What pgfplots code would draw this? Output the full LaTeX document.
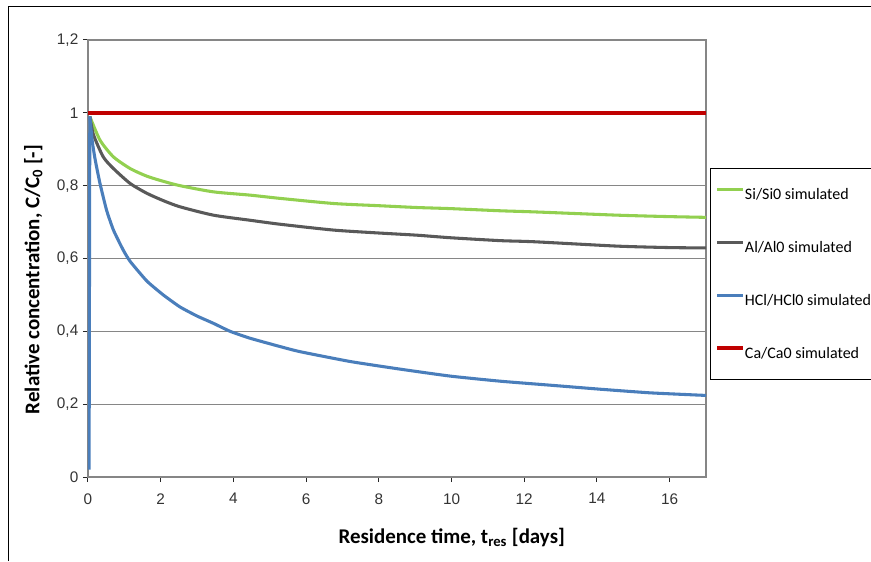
\documentclass[border=0pt]{standalone}
\usepackage{fontspec}
\setmainfont{Liberation Sans}
\newfontfamily\calibri{Carlito}
\usepackage{pgfplots}
\pgfplotsset{compat=1.18}

\definecolor{siGreen}{RGB}{146,208,80}
\definecolor{alGrey}{RGB}{89,89,89}
\definecolor{hclBlue}{RGB}{74,126,187}
\definecolor{caRed}{RGB}{192,0,0}
\definecolor{gridGrey}{RGB}{134,134,134}

\begin{document}
\begin{tikzpicture}
\path[use as bounding box] (0,0) rectangle (653.25pt,420.75pt);
% outer chart frame (cut at right and bottom)
\draw[black, line width=0.75pt] (6pt,0pt) -- (6pt,415.5pt) -- (660pt,415.5pt);

\begin{axis}[
  at={(66pt,63pt)}, anchor=south west,
  scale only axis, width=463.5pt, height=327.75pt,
  xmin=0, xmax=17, ymin=0, ymax=1.2,
  xtick={0,2,4,6,8,10,12,14,16},
  ytick={0,0.2,0.4,0.6,0.8,1,1.2},
  /pgf/number format/use comma,
  /pgf/number format/fixed,
  /pgf/number format/precision=1,
  /pgf/number format/assume math mode=true,
  ymajorgrids,
  major grid style={gridGrey, line width=0.75pt},
  axis line style={gridGrey, line width=0.9pt},
  tick align=outside, tick pos=left,
  major tick length=3.75pt,
  tick style={black!85, line width=0.75pt},
  tick label style={font=\fontsize{11.5pt}{13pt}\selectfont, text=black!80},
  xticklabel style={yshift=-5pt},
  xlabel={Residence time, t\textsubscript{res} [days]},
  ylabel={Relative concentration, C/C\textsubscript{0} [-]},
  xlabel style={font=\calibri\bfseries\fontsize{15.7pt}{18pt}\selectfont,
    at={(axis description cs:0.5885,-0.1517)}, anchor=base},
  ylabel style={font=\calibri\bfseries\fontsize{15.7pt}{18pt}\selectfont,
    at={(axis description cs:-0.0785,0.452)}, anchor=base},
  legend cell align=left,
  legend image code/.code={\draw[#1] (0pt,4pt) -- (19.5pt,4pt);},
  legend style={at={(1.0065,0.7071)}, anchor=north west,
    draw=black, line width=0.75pt, fill=white,
    font=\calibri\fontsize{12pt}{14pt}\selectfont,
    inner xsep=3.75pt, inner ysep=14pt, row sep=28.75pt,
    nodes={inner sep=0pt, text height=9.5pt, text depth=1.5pt}},
]

% Si/Si0 simulated
\addplot[siGreen, line width=2.3pt, smooth, tension=0.4] coordinates {
(0.05,0.99) (0.33,0.925) (0.70,0.879) (1.16,0.847) (1.62,0.826) (2.07,0.812)
(2.53,0.800) (3.45,0.783) (4.46,0.774) (5.29,0.765) (6.76,0.751) (8.0,0.745)
(9.05,0.740) (9.97,0.737) (11.35,0.731) (12.27,0.728) (14.56,0.719) (16.0,0.715)
(17.0,0.713)};
\addlegendentry{Si/Si0 simulated}

% Al/Al0 simulated
\addplot[alGrey, line width=2.3pt, smooth, tension=0.4] coordinates {
(0.05,0.99) (0.15,0.94) (0.42,0.879) (0.70,0.847) (1.16,0.806) (1.62,0.779)
(2.07,0.759) (2.53,0.742) (3.45,0.719) (4.46,0.705) (5.29,0.694) (6.76,0.678)
(8.0,0.670) (9.05,0.664) (9.97,0.657) (11.35,0.649) (12.27,0.646) (14.56,0.634)
(16.0,0.630) (17.0,0.629)};
\addlegendentry{Al/Al0 simulated}

% HCl/HCl0 simulated: initial jump, then the decay
\addplot[hclBlue, line width=2.3pt, forget plot] coordinates {
(0.03,0.02) (0.05,0.99)};
\addplot[hclBlue, line width=2.3pt, smooth, tension=0.3] coordinates {
(0.05,0.99) (0.12,0.92) (0.20,0.87) (0.33,0.806) (0.51,0.733)
(0.70,0.678) (0.97,0.623) (1.16,0.592) (1.62,0.538) (2.07,0.500) (2.53,0.467)
(3.00,0.442) (3.45,0.422) (3.91,0.400) (4.46,0.381) (5.29,0.358) (5.84,0.344)
(7.22,0.317) (8.60,0.296) (9.97,0.277) (11.35,0.263) (12.73,0.252) (14.10,0.241)
(15.48,0.231) (17.0,0.224)};
\addlegendentry{HCl/HCl0 simulated}

% Ca/Ca0 simulated
\addplot[caRed, line width=2.6pt] coordinates {(0,1) (17,1)};
\addlegendentry{Ca/Ca0 simulated}

\end{axis}
\end{tikzpicture}
\end{document}
